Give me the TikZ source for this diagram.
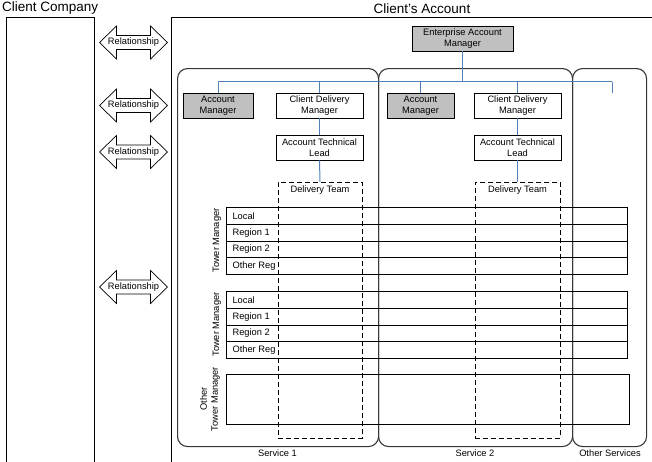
\documentclass[tikz,border=0pt]{standalone}
\usepackage{fontspec}
\setmainfont{Liberation Sans}
\definecolor{boxgray}{RGB}{192,192,192}
\definecolor{busblue}{RGB}{79,129,189}
\definecolor{svcgray}{RGB}{55,55,55}
\newcommand{\relarrow}[2]{%
  \begin{scope}[shift={(133.5,#2)}]
    \draw[rel] (-34,0) -- (-17,-16.5) -- (-17,-7) -- (17,-7) -- (17,-16.5) -- (34,0)
      -- (17,16.5) -- (17,7) -- (-17,7) -- (-17,16.5) -- cycle;
    \node[small] (#1) at (0,0) {Relationship};
  \end{scope}}
\begin{document}
\begin{tikzpicture}[x=1pt,y=-1pt,
  small/.style={font=\fontsize{9.3}{11}\selectfont},
  title/.style={font=\fontsize{13.5}{16}\selectfont, inner sep=0pt},
  box/.style={draw=black, line width=0.9pt, small, align=center, inner sep=0pt},
  graybox/.style={box, fill=boxgray},
  outer/.style={draw=black, line width=1pt, inner sep=0pt},
  svc/.style={draw=svcgray, line width=1.1pt, rounded corners=10pt, inner sep=0pt},
  bus/.style={draw=busblue, line width=1pt},
  dt/.style={draw=black, dash pattern=on 5pt off 3pt, line width=0.9pt, inner sep=0pt},
  rowbox/.style={draw=black, line width=1.1pt, inner sep=0pt},
  rel/.style={draw=black, line width=0.7pt, fill=white},
]
\useasboundingbox (0,0) rectangle (652,461);

% titles
\node[title, anchor=west] (cct) at (2,8.5) {Client Company};
\node[title] (cat) at (422,8.5) {Client’s Account};

% outer boxes
\node[outer, minimum width=88pt, minimum height=470pt, anchor=north west] (cc) at (6,17) {};
\node[outer, minimum width=500pt, minimum height=470pt, anchor=north west] (ca) at (171,17) {};

% relationship arrows
\relarrow{rel1}{42.5}
\relarrow{rel2}{105.5}
\relarrow{rel3}{152}
\relarrow{rel4}{287}

% service containers
\node[svc, minimum width=201pt, minimum height=378pt, anchor=north west] (s1) at (177,68) {};
\node[svc, minimum width=194pt, minimum height=378pt, anchor=north west] (s2) at (378,68) {};
\node[svc, minimum width=74pt, minimum height=378pt, anchor=north west] (s3) at (572,68) {};
\node[small] (s1l) at (277.5,453.5) {Service 1};
\node[small] (s2l) at (475,453.5) {Service 2};
\node[small] (s3l) at (610,453.5) {Other Services};

% tower manager rows
\foreach \lab [count=\i] in {Local,Region 1,Region 2,Other Reg} {
  \node[rowbox, minimum width=401pt, minimum height=16.75pt, anchor=north west] (ra\i) at (226,{207+(\i-1)*16.75}) {};
  \node[small, anchor=west] (ral\i) at ([xshift=3pt]ra\i.west) {\lab};
  \node[rowbox, minimum width=401pt, minimum height=16.75pt, anchor=north west] (rb\i) at (226,{291+(\i-1)*16.75}) {};
  \node[small, anchor=west] (rbl\i) at ([xshift=3pt]rb\i.west) {\lab};
}
\node[small, rotate=90] (tm1) at (217,240.5) {Tower Manager};
\node[small, rotate=90] (tm2) at (217,324.5) {Tower Manager};
\node[rowbox, minimum width=403pt, minimum height=50pt, anchor=north west] (otm) at (226,374) {};
\node[small, rotate=90, align=center] (otml) at (210,399) {Other\\Tower Manager};

% delivery teams
\node[dt, minimum width=84pt, minimum height=256pt, anchor=north] (dt1) at (320,182) {};
\node[small] (dt1l) at (320,190) {Delivery Team};
\node[dt, minimum width=85pt, minimum height=256pt, anchor=north] (dt2) at (517.5,182) {};
\node[small] (dt2l) at (517.5,190) {Delivery Team};

% management boxes
\node[graybox, minimum width=101pt, minimum height=25pt] (eam) at (462.5,38.5) {Enterprise Account\\Manager};
\node[graybox, minimum width=70pt, minimum height=25pt] (am1) at (218,105.5) {Account\\Manager};
\node[box, minimum width=87pt, minimum height=25pt] (cdm1) at (319.5,105.5) {Client Delivery\\Manager};
\node[box, minimum width=87pt, minimum height=25pt] (atl1) at (319.5,147.5) {Account Technical\\Lead};
\node[graybox, minimum width=67pt, minimum height=25pt] (am2) at (420.5,105.5) {Account\\Manager};
\node[box, minimum width=87pt, minimum height=25pt] (cdm2) at (517.5,105.5) {Client Delivery\\Manager};
\node[box, minimum width=87pt, minimum height=25pt] (atl2) at (517.5,147.5) {Account Technical\\Lead};

% blue connectors
\coordinate (busL) at (218,81.5);
\coordinate (busR) at (612,81.5);
\coordinate (osdrop) at (612,93);
\draw[bus] (busL) -- (busR);
\draw[bus] (eam.south) -- (eam.south |- busL);
\draw[bus] (am1.north) -- (am1.north |- busL);
\draw[bus] (cdm1.north) -- (cdm1.north |- busL);
\draw[bus] (am2.north) -- (am2.north |- busL);
\draw[bus] (cdm2.north) -- (cdm2.north |- busL);
\draw[bus] (busR) -- (osdrop);
\draw[bus] (cdm1.south) -- (atl1.north);
\draw[bus] (atl1.south) -- (dt1.north);
\draw[bus] (cdm2.south) -- (atl2.north);
\draw[bus] (atl2.south) -- (dt2.north);
\end{tikzpicture}
\end{document}
